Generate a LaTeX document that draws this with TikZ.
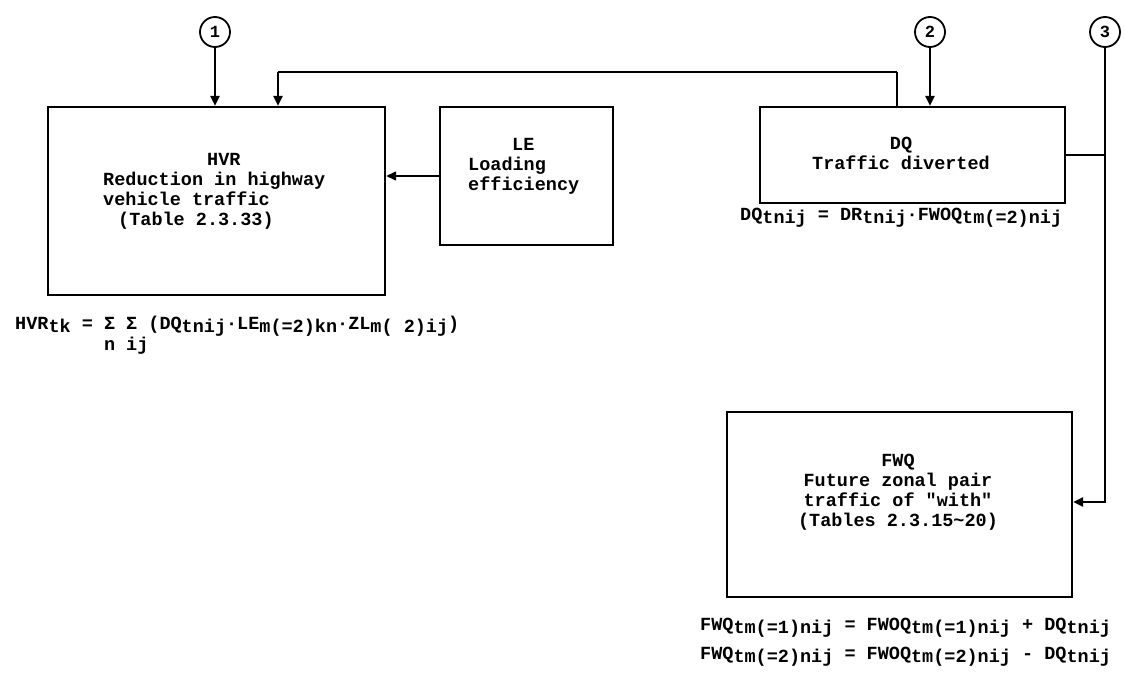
\documentclass[tikz,border=0pt]{standalone}
\usepackage{fontspec}
\setmonofont{Liberation Mono}
\usetikzlibrary{arrows.meta}
\newcommand\lo[1]{\raisebox{-3pt}{#1}}
\begin{document}
\begin{tikzpicture}[x=1pt,y=-1pt,
  every node/.style={inner sep=0pt},
  box/.style={draw, line width=2.4pt, inner sep=0pt},
  txt/.style={font=\ttfamily\bfseries\fontsize{18.5}{20}\selectfont, align=center},
  txtl/.style={font=\ttfamily\bfseries\fontsize{18.5}{20}\selectfont, align=left, anchor=west},
  frm/.style={font=\ttfamily\bfseries\fontsize{18.5}{20}\selectfont, align=left, anchor=west},
  frmw/.style={font=\ttfamily\bfseries\fontsize{18.5}{29}\selectfont, align=left, anchor=west},
  num/.style={draw, circle, line width=1.8pt, minimum size=30pt, font=\ttfamily\bfseries\fontsize{17}{17}\selectfont},
  heavy/.style={line width=2.6pt},
  light/.style={line width=1.4pt},
  tip/.style={-{Triangle[length=10pt,width=9pt]}},
]
\fill[white] (0,0) rectangle (1125,677);
\useasboundingbox (0,0) rectangle (1125,677);

% boxes
\node[box, minimum width=337pt, minimum height=188pt] (hvr) at (216.5,201) {};
\node[box, minimum width=173pt, minimum height=138pt] (le) at (526.5,176) {};
\node[box, minimum width=305pt, minimum height=96pt] (dq) at (912.5,155) {};
\node[box, minimum width=345pt, minimum height=185pt] (fwq) at (899.5,504.5) {};

% circled numbers
\node[num] (c1) at (215,32) {1};
\node[num] (c2) at (930,32) {2};
\node[num] (c3) at (1105,32) {3};

% box texts
\node[txtl] (hvrt) at (103,191) {\hspace*{104pt}HVR\\Reduction in highway\\vehicle traffic\\\hspace*{15pt}(Table 2.3.33)};
\node[txtl] (let) at (468,166) {\hspace*{44pt}LE\\Loading\\efficiency};
\node[txt] (dqt) at (901,153) {DQ\\Traffic diverted};
\node[txt] (fwqt) at (898,492) {FWQ\\Future zonal pair\\traffic of "with"\\(Tables 2.3.15\textasciitilde 20)};

% formulas
\node[frm] (f1) at (15,335) {HVR\lo{tk} = Σ Σ (DQ\lo{tnij}·LE\lo{m(=2)kn}·ZL\lo{m( 2)ij})\\\phantom{HVR\lo{tk} = }n ij};
\node[frm] (f2) at (740,218) {DQ\lo{tnij} = DR\lo{tnij}·FWOQ\lo{tm(=2)nij}};
\node[frmw] (f3) at (700,642) {FWQ\lo{tm(=1)nij} = FWOQ\lo{tm(=1)nij} + DQ\lo{tnij}\\FWQ\lo{tm(=2)nij} = FWOQ\lo{tm(=2)nij} - DQ\lo{tnij}};

% connectors
\coordinate (la) at (278,72);
\coordinate (lb) at (897,72);
\coordinate (k) at (1105,502);
\draw[heavy,tip] (c1) -- (c1 |- hvr.north);
\draw[heavy] (lb |- dq.north) -- (lb);
\draw[light] (lb) -- (la);
\draw[heavy,tip] (la) -- (la |- hvr.north);
\draw[light,tip] (le.west) -- (le.west -| hvr.east);
\draw[heavy,tip] (c2) -- (c2 |- dq.north);
\draw[light] (dq.east) -- (dq.east -| k);
\draw[heavy,tip] (c3) -- (k) -- (k -| fwq.east);
\end{tikzpicture}
\end{document}
